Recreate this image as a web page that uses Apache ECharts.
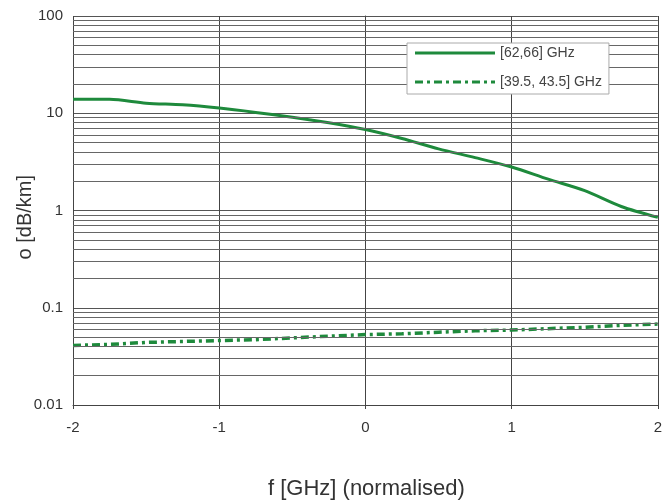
<!DOCTYPE html>
<html><head><meta charset="utf-8">
<script src="https://cdn.jsdelivr.net/npm/echarts@6/dist/echarts.min.js"></script>
<style>html,body{margin:0;padding:0;background:#fff}#c{width:665px;height:504px}</style>
</head><body><div id="c"></div>
<script>
const xValues = [-2, -1.75, -1.5, -1.25, -1, -0.75, -0.5, -0.25, 0, 0.25, 0.5, 0.75, 1, 1.25, 1.5, 1.75, 2];
const band62 = [13.9, 13.9, 12.7, 12.2, 11.3, 10.2, 9.1, 8.0, 6.8, 5.5, 4.3, 3.5, 2.8, 2.1, 1.6, 1.1, 0.85];
const band39 = [0.041, 0.042, 0.044, 0.045, 0.046, 0.047, 0.049, 0.051, 0.053, 0.054, 0.056, 0.058, 0.059, 0.061, 0.063, 0.066, 0.068];
const seriesNames = ['[62,66] GHz', '[39.5, 43.5] GHz'];
const minorGrid = [];
[0.01, 0.1, 1, 10].forEach(d => { for (let k = 2; k <= 9; k++) minorGrid.push(+(d * k).toPrecision(3)); });

const solidIcon = 'path://M0,0h80v3h-80z';
const dashIcon = 'path://M0,0h8v3h-8z M12,0h3v3h-3z M19,0h8v3h-8z M31,0h3v3h-3z M38,0h8v3h-8z M50,0h3v3h-3z M57,0h8v3h-8z M69,0h3v3h-3z M76,0h4v3h-4z';

const chart = echarts.init(document.getElementById('c'));
const green = '#1e8a3c';
chart.setOption({
  animation: false,
  grid: { left: 73, right: 3, top: 16, bottom: 99 },
  legend: {
    left: 407, top: 43, orient: 'vertical', z: 10,
    backgroundColor: '#fff', borderColor: '#aaa', borderWidth: 1,
    padding: [3, 7, 5, 8], itemGap: 15, itemWidth: 80, itemHeight: 14,
    textStyle: { fontFamily: 'Liberation Sans', fontSize: 14, color: '#444' },
    data: [
      { name: seriesNames[0], icon: solidIcon },
      { name: seriesNames[1], icon: dashIcon }
    ]
  },
  xAxis: {
    type: 'value', min: -2, max: 2, interval: 1,
    axisLine: { show: true, onZero: false, lineStyle: { color: '#444' } },
    axisTick: { show: true, length: 4, lineStyle: { color: '#444' } },
    axisLabel: { fontFamily: 'Liberation Sans', fontSize: 15, color: '#333', margin: 15 },
    splitLine: { show: true, lineStyle: { color: '#444', width: 1 } }
  },
  yAxis: {
    type: 'log', min: 0.01, max: 100, logBase: 10,
    axisLine: { show: true, lineStyle: { color: '#444' } },
    axisTick: { show: true, length: 6, lineStyle: { color: '#555' } },
    axisLabel: { fontFamily: 'Liberation Sans', fontSize: 15, color: '#333', margin: 10,
      formatter: v => String(v) },
    splitLine: { show: true, lineStyle: { color: '#555', width: 1 } }
  },
  graphic: [
    { type: 'text', left: 15, top: 175, rotation: Math.PI / 2,
      style: { text: 'o [dB/km]', font: '20px "Liberation Sans"', fill: '#333' } },
    { type: 'text', left: 268, top: 478,
      style: { text: 'f [GHz] (normalised)', font: '22px "Liberation Sans"', fill: '#333' } }
  ],
  series: [
    {
      type: 'line', name: 'grid-minor', data: [], z: 1, silent: true,
      markLine: {
        silent: true, symbol: 'none', label: { show: false },
        lineStyle: { color: '#666', width: 1, type: 'solid' },
        data: minorGrid.map(v => ({ yAxis: v }))
      }
    },
    {
      name: seriesNames[0], type: 'line', symbol: 'none', smooth: 0.3, z: 3,
      data: xValues.map((x, i) => [x, band62[i]]),
      lineStyle: { color: green, width: 3 }, itemStyle: { color: green }
    },
    {
      name: seriesNames[1], type: 'line', symbol: 'none', z: 3,
      data: xValues.map((x, i) => [x, band39[i]]),
      lineStyle: { color: green, width: 3.5, type: [8, 4, 3, 4] }, itemStyle: { color: green }
    }
  ]
});
</script></body></html>
